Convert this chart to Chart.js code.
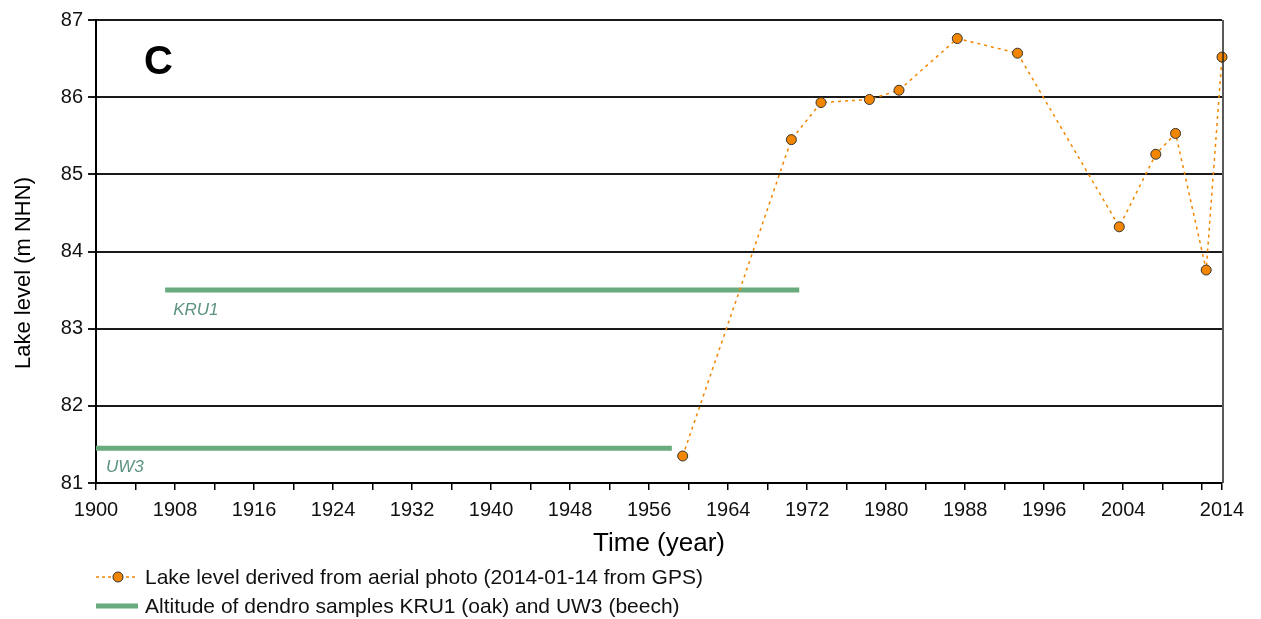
<!DOCTYPE html>
<html>
<head>
<meta charset="utf-8">
<script src="https://cdn.jsdelivr.net/npm/chart.js@4.4.1/dist/chart.umd.min.js"></script>
<style>
  html, body { margin: 0; padding: 0; background: #fff; }
  #wrap { width: 1261px; height: 619px; }
</style>
</head>
<body>
<div id="wrap"><canvas id="lakeChart" width="1261" height="619"></canvas></div>
<script>
// lake level from aerial photos
const lakeYears = [1959.4, 1970.4, 1973.4, 1978.3, 1981.3, 1987.2, 1993.3, 2003.6, 2007.3, 2009.3, 2012.4, 2014.0];
const lakeLevels = [81.35, 85.45, 85.93, 85.97, 86.09, 86.76, 86.57, 84.32, 85.26, 85.53, 83.76, 86.52];

// dendro sample altitudes
const kru1Span = [1907, 1971.2];
const kru1Level = 83.5;
const uw3Span = [1900, 1958.3];
const uw3Level = 81.45;

const yTicks = [81, 82, 83, 84, 85, 86, 87];
const xTickStep = 4;
const xLabelStep = 8;

const orange = '#f28600';
const green = '#69ab7c';
const labelGreen = '#5b9282';
const font = 'Liberation Sans, Arial, sans-serif';

const lakePoints = lakeYears.map((yr, i) => ({ x: yr, y: lakeLevels[i] }));

const extras = {
    id: 'extras',
    afterDraw(chart) {
        const ctx = chart.ctx;
        const area = chart.chartArea;
        const xs = chart.scales.x;
        const ys = chart.scales.y;
        ctx.save();

        // right frame line
        ctx.strokeStyle = '#222';
        ctx.lineWidth = 1.5;
        ctx.beginPath();
        ctx.moveTo(area.right + 1, area.top);
        ctx.lineTo(area.right + 1, area.bottom);
        ctx.stroke();

        // panel letter
        ctx.fillStyle = '#000';
        ctx.font = 'bold 40px ' + font;
        ctx.textBaseline = 'alphabetic';
        ctx.fillText('C', 144, 74);

        // y axis title (sits a bit below the middle, as in the figure)
        ctx.save();
        ctx.translate(30, 273);
        ctx.rotate(-Math.PI / 2);
        ctx.textAlign = 'center';
        ctx.font = '22px ' + font;
        ctx.fillText('Lake level (m NHN)', 0, 0);
        ctx.restore();

        // sample labels
        ctx.fillStyle = labelGreen;
        ctx.font = 'italic 17px ' + font;
        ctx.fillText('KRU1', xs.getPixelForValue(kru1Span[0]) + 8, ys.getPixelForValue(kru1Level) + 25);
        ctx.fillText('UW3', xs.getPixelForValue(uw3Span[0]) + 10, ys.getPixelForValue(uw3Level) + 24);

        // legend
        ctx.font = '21px ' + font;
        ctx.textBaseline = 'middle';
        ctx.strokeStyle = orange;
        ctx.lineWidth = 1.5;
        ctx.setLineDash([3, 3]);
        ctx.beginPath();
        ctx.moveTo(96, 577);
        ctx.lineTo(137, 577);
        ctx.stroke();
        ctx.setLineDash([]);
        ctx.beginPath();
        ctx.arc(118, 577, 5, 0, Math.PI * 2);
        ctx.fillStyle = orange;
        ctx.fill();
        ctx.strokeStyle = '#333';
        ctx.lineWidth = 1;
        ctx.stroke();
        ctx.fillStyle = '#111';
        ctx.fillText('Lake level derived from aerial photo (2014-01-14 from GPS)', 145, 578);

        ctx.strokeStyle = green;
        ctx.lineWidth = 5;
        ctx.beginPath();
        ctx.moveTo(96, 606);
        ctx.lineTo(138, 606);
        ctx.stroke();
        ctx.fillText('Altitude of dendro samples KRU1 (oak) and UW3 (beech)', 145, 607);

        ctx.restore();
    }
};

new Chart(document.getElementById('lakeChart').getContext('2d'), {
    type: 'line',
    data: {
        datasets: [
            {
                label: 'Lake level derived from aerial photo (2014-01-14 from GPS)',
                data: lakePoints,
                borderColor: orange,
                borderWidth: 1.5,
                borderDash: [3, 4],
                pointRadius: 5,
                pointBackgroundColor: orange,
                pointBorderColor: '#333',
                pointBorderWidth: 1,
                clip: false
            },
            {
                label: 'KRU1',
                data: kru1Span.map(v => ({ x: v, y: kru1Level })),
                borderColor: green,
                borderWidth: 5,
                pointRadius: 0
            },
            {
                label: 'UW3',
                data: uw3Span.map(v => ({ x: v, y: uw3Level })),
                borderColor: green,
                borderWidth: 5,
                pointRadius: 0
            }
        ]
    },
    options: {
        responsive: false,
        animation: false,
        layout: { padding: { left: 0, right: 39, top: 20, bottom: 56 } },
        plugins: {
            legend: { display: false },
            tooltip: { enabled: false }
        },
        scales: {
            x: {
                type: 'linear',
                min: 1900,
                max: 2014,
                afterBuildTicks(scale) {
                    const t = [];
                    for (let v = 1900; v < 2014; v += xTickStep) t.push({ value: v });
                    t.push({ value: 2014 });
                    scale.ticks = t;
                },
                afterFit(scale) { scale.height = 80; },
                border: { color: '#000', width: 2 },
                grid: { drawOnChartArea: false, drawTicks: true, tickLength: 7, color: '#000', lineWidth: 1.5 },
                ticks: {
                    autoSkip: false,
                    maxRotation: 0,
                    padding: 8,
                    color: '#111',
                    font: { family: font, size: 20 },
                    callback(v) {
                        if (v === 2014) return '2014';
                        if ((v - 1900) % xLabelStep === 0 && v !== 2012) return String(v);
                        return '';
                    }
                },
                title: {
                    display: true,
                    text: 'Time (year)',
                    color: '#000',
                    font: { family: font, size: 26 },
                    padding: { top: 8 }
                }
            },
            y: {
                min: 81,
                max: 87,
                afterBuildTicks(scale) {
                    scale.ticks = yTicks.map(v => ({ value: v }));
                },
                afterFit(scale) { scale.width = 96; },
                border: { color: '#000', width: 2 },
                grid: { color: '#1a1a1a', lineWidth: 2, tickLength: 8 },
                ticks: {
                    padding: 5,
                    color: '#111',
                    font: { family: font, size: 20 }
                }
            }
        }
    },
    plugins: [extras]
});
</script>
</body>
</html>
